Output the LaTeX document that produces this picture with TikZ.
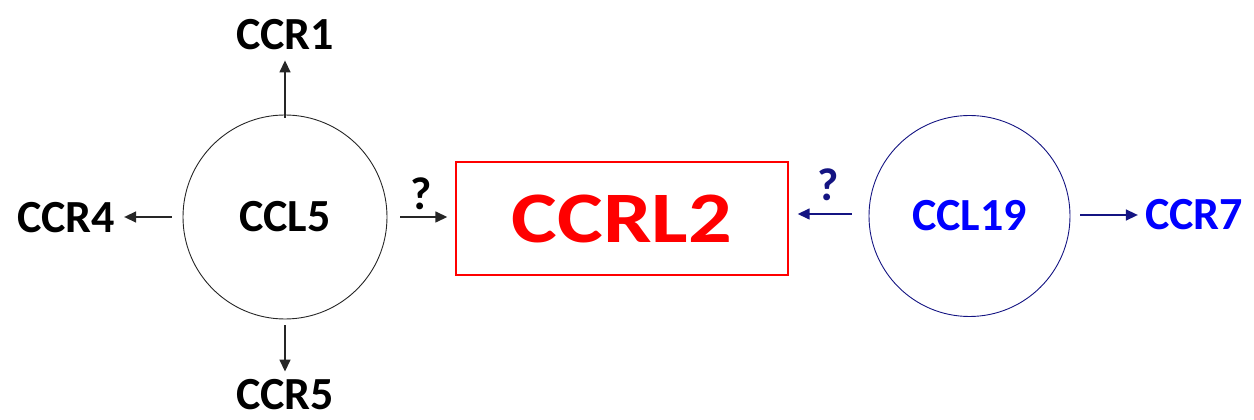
\documentclass[tikz,border=0pt]{standalone}
\usepackage{fontspec}
\setmainfont{Carlito}
\usetikzlibrary{arrows.meta}
\definecolor{navy}{RGB}{20,20,130}
\definecolor{ligblue}{RGB}{0,0,255}
\definecolor{boxred}{RGB}{255,0,0}
\begin{document}
\begin{tikzpicture}[x=1pt,y=1pt,
  lbl/.style={font=\fontsize{46}{50}\selectfont\bfseries, inner sep=0pt},
  ring/.style={circle, draw=black!85, line width=0.9pt, inner sep=0pt},
  tip/.style={-{Triangle[length=12pt,width=11pt]}},
  arr/.style={line width=1.5pt, draw=black!85, tip},
  narr/.style={line width=1.5pt, draw=navy, tip}]
\useasboundingbox (0,0) rectangle (1254,420);
% left ligand and its receptors
\node[ring, minimum size=204pt, lbl] (ccl5) at (285,203) {CCL5};
\node[lbl] (ccr1) at (285,385) {CCR1};
\node[lbl] (ccr5) at (285,25) {CCR5};
\node[lbl] (ccr4) at (66,202) {CCR4};
% central receptor
\node[draw=boxred, line width=1.4pt, minimum width=332pt, minimum height=113pt, inner sep=0pt,
      text=boxred, font=\fontsize{72.5}{76}\selectfont\bfseries] (ccrl2) at (622,201.5)
      {\scalebox{1.19}[1]{CCRL2}};
% right ligand and its receptor
\node[ring, draw=navy, minimum size=201pt, lbl, text=ligblue] (ccl19) at (969.5,204) {CCL19};
\node[lbl, text=ligblue] (ccr7) at (1194,205) {CCR7};
% connectors
\draw[arr, shorten <=-3pt, shorten >=10pt] (ccl5.north) -- (ccl5.north |- ccr1.south);
\draw[arr, shorten <=6pt, shorten >=8pt] (ccl5.south) -- (ccl5.south |- ccr5.north);
\draw[arr, shorten <=11pt, shorten >=9pt] (ccl5.west) -- (ccl5.west -| ccr4.east);
\draw[arr, shorten <=13pt, shorten >=8pt] (ccl5.east) -- (ccl5.east -| ccrl2.west)
  node[midway, above=6pt, lbl, black] {?};
\draw[narr, shorten <=17pt, shorten >=9pt] ([yshift=2pt]ccl19.west) -- ([yshift=2pt]ccl19.west -| ccrl2.east)
  node[midway, above=12pt, lbl, text=navy] {?};
\draw[narr, shorten <=10pt, shorten >=7pt] ([yshift=1pt]ccl19.east) -- ([yshift=1pt]ccl19.east -| ccr7.west);
\end{tikzpicture}
\end{document}
